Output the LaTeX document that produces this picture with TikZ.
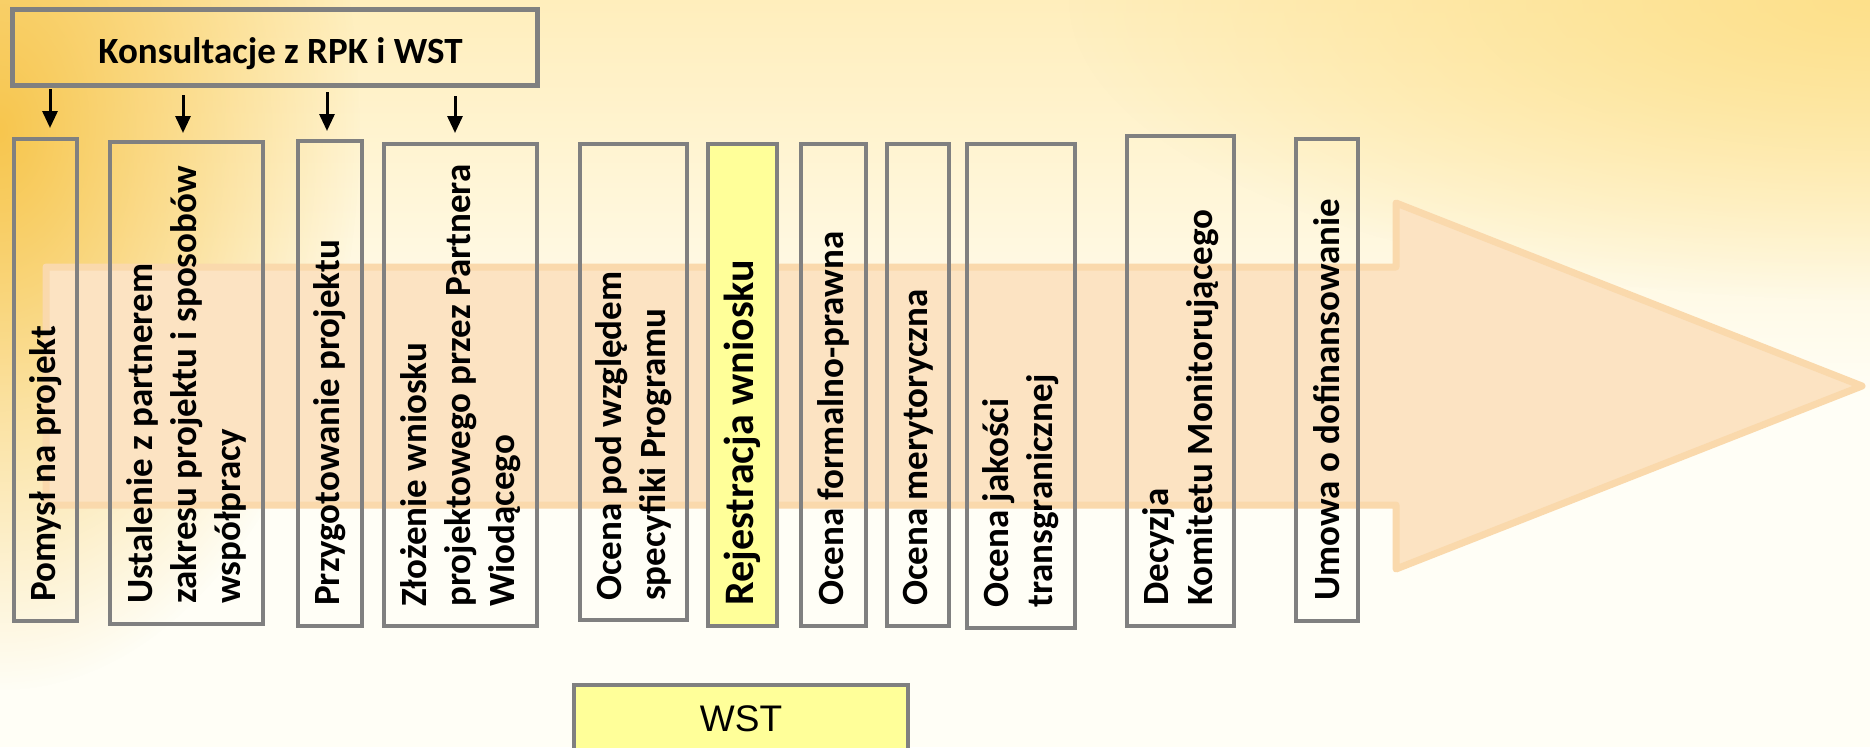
\documentclass[tikz,border=0pt]{standalone}
\usepackage{fontspec}
\setmainfont{Carlito}
\newfontfamily\arialf{Liberation Sans}
\usetikzlibrary{arrows.meta,fadings,calc}
\definecolor{boxgray}{HTML}{808080}
\definecolor{peach}{HTML}{FCE3C2}
\definecolor{peachline}{HTML}{FAD9AC}
\definecolor{lightyellow}{HTML}{FFFF99}
\definecolor{bgcream}{HTML}{FFFEF6}
\definecolor{bgtop}{HTML}{FFEEBC}
\definecolor{glowA}{HTML}{F7C64E}
\definecolor{glowB}{HTML}{FDE08A}
\tikzfading[name=glowfade, inner color=transparent!0, outer color=transparent!100]
\newcommand{\stepnode}[6]{%
  \node[stepbox,#6, minimum width={(#4-#2-4)*1pt}, minimum height={(#5-#3-4)*1pt}]
    (#1) at ({(#2+#4)/2},{(#3+#5)/2}) {};}
\begin{document}
\begin{tikzpicture}[x=1pt,y=-1pt,
  stepbox/.style={draw=boxgray, line width=4pt, inner sep=0pt},
  steptext/.style={rotate=90, anchor=west, align=left, inner sep=0pt,
    font=\bfseries\fontsize{37}{44}\selectfont},
  arr/.style={line width=3pt, -{Triangle[length=17pt,width=15pt]}},
]
\useasboundingbox (0,0) rectangle (1870,747);
\clip (0,0) rectangle (1870,747);
% background
\fill[bgcream] (0,0) rectangle (1870,747);
\shade[top color=bgtop, bottom color=bgcream] (0,0) rectangle (1870,400);
\fill[glowA, path fading=glowfade] (0,130) ellipse (360 and 560);
\fill[glowB, path fading=glowfade] (1870,0) ellipse (800 and 300);
% big arrow
\draw[peachline, fill=peach, line width=7pt, line join=round]
  (46,267) -- (1396,267) -- (1396,203) -- (1862,386) -- (1396,569)
  -- (1396,505) -- (46,505) -- cycle;
% header
\node[stepbox, line width=5pt, minimum width=525pt, minimum height=76pt] (k) at (275,47.5) {};
\node[font=\bfseries\fontsize{37}{44}\selectfont, anchor=base, inner sep=0pt] (kt) at (280.5,63) {Konsultacje z RPK i WST};
% step boxes
\stepnode{b1}{12}{137}{79}{623}{}
\stepnode{b2}{108}{140}{265}{626}{}
\stepnode{b3}{296}{139}{364}{628}{}
\stepnode{b4}{382}{142}{539}{628}{}
\stepnode{b5}{578}{142}{689}{622}{}
\stepnode{b6}{706}{142}{779}{628}{fill=lightyellow}
\stepnode{b7}{799}{142}{868}{628}{}
\stepnode{b8}{885}{142}{951}{628}{}
\stepnode{b9}{965}{142}{1077}{630}{}
\stepnode{b10}{1125}{134}{1236}{628}{}
\stepnode{b11}{1294}{137}{1360}{623}{}
% texts
\node[steptext] (t1) at ($(b1.south)+(0,-21)$) {Pomysł na projekt};
\node[steptext] (t2) at ($(b2.south)+(0,-22)$) {Ustalenie z partnerem\\zakresu projektu i sposobów\\współpracy};
\node[steptext] (t3) at ($(b3.south)+(0,-22)$) {Przygotowanie projektu};
\node[steptext] (t4) at ($(b4.south)+(0,-21)$) {Złożenie wniosku\\projektowego przez Partnera\\Wiodącego};
\node[steptext] (t5) at ($(b5.south)+(0,-21)$) {Ocena pod względem\\specyfiki Programu};
\node[steptext, font=\bfseries\fontsize{42}{50}\selectfont] (t6) at ($(b6.south)+(0,-22)$) {Rejestracja wniosku};
\node[steptext] (t7) at ($(b7.south)+(0,-22)$) {Ocena formalno-prawna};
\node[steptext] (t8) at ($(b8.south)+(0,-22)$) {Ocena merytoryczna};
\node[steptext] (t9) at ($(b9.south)+(0,-22)$) {Ocena jakości\\transgranicznej};
\node[steptext] (t10) at ($(b10.south)+(0,-22)$) {Decyzja\\Komitetu Monitorującego};
\node[steptext] (t11) at ($(b11.south)+(0,-22)$) {Umowa o dofinansowanie};
% arrows from header
\draw[arr] ($(b1.north |- k.south)+(4.5,1)$) -- ($(b1.north)+(4.5,-9)$);
\draw[arr] ($(b2.north |- k.south)+(-3.5,7)$) -- ($(b2.north)+(-3.5,-7)$);
\draw[arr] ($(b3.north |- k.south)+(-3,4)$) -- ($(b3.north)+(-3,-8)$);
\draw[arr] ($(b4.north |- k.south)+(-5.5,8)$) -- ($(b4.north)+(-5.5,-9)$);
% WST box
\node[stepbox, fill=lightyellow, font=\arialf\fontsize{37}{44}\selectfont,
  minimum width=334pt, minimum height=67pt] (wst) at (741,718.5) {WST};
\end{tikzpicture}
\end{document}
